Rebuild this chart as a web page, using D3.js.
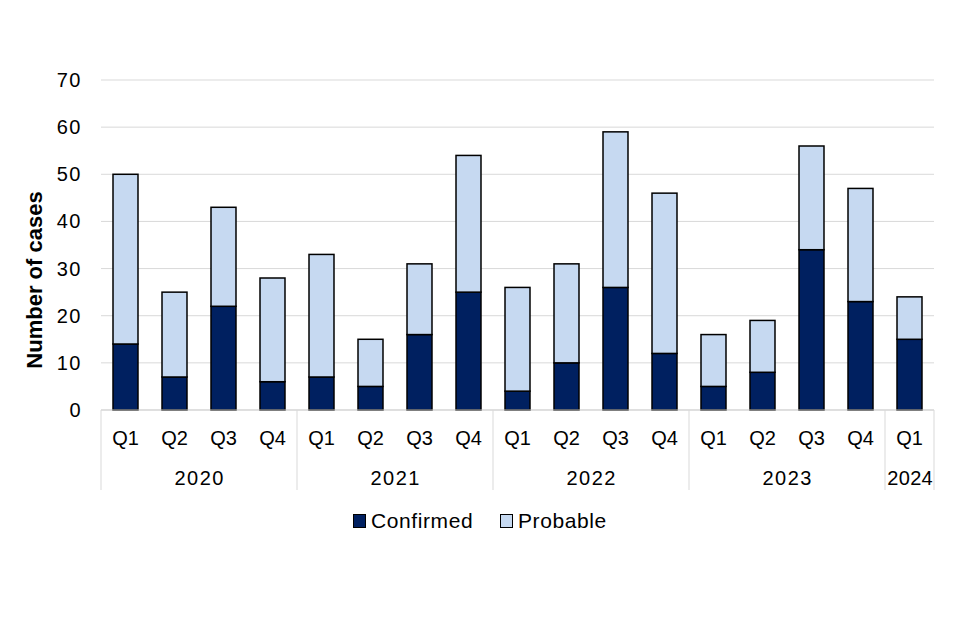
<!DOCTYPE html>
<html>
<head>
<meta charset="utf-8">
<script src="https://cdn.jsdelivr.net/npm/d3@7"></script>
<style>
  body { margin: 0; background: #fff; }
  text { font-family: "Liberation Sans", Arial, sans-serif; fill: #000; }
</style>
</head>
<body>
<svg id="chart" width="960" height="640"></svg>
<script>
var quarters = ["Q1", "Q2", "Q3", "Q4", "Q1", "Q2", "Q3", "Q4", "Q1", "Q2", "Q3", "Q4", "Q1", "Q2", "Q3", "Q4", "Q1"];
var years = ["2020", "2020", "2020", "2020", "2021", "2021", "2021", "2021", "2022", "2022", "2022", "2022", "2023", "2023", "2023", "2023", "2024"];
var confirmed = [14, 7, 22, 6, 7, 5, 16, 25, 4, 10, 26, 12, 5, 8, 34, 23, 15];
var probable = [36, 18, 21, 22, 26, 10, 15, 29, 22, 21, 33, 34, 11, 11, 22, 24, 9];
var yTicks = [0, 10, 20, 30, 40, 50, 60, 70];

var svg = d3.select("#chart");
var plotL = 101, plotR = 934, plotT = 80, plotB = 410;
var fs = "20px";

var idx = d3.range(quarters.length);
var x = d3.scaleBand().domain(idx).range([plotL, plotR]).paddingInner(0.49).paddingOuter(0.245);
var slot = (plotR - plotL) / quarters.length;
var y = d3.scaleLinear().domain([0, 70]).range([plotB, plotT]);

// gridlines
svg.append("g").selectAll("line")
  .data(yTicks.slice(1))
  .enter().append("line")
  .attr("x1", plotL).attr("x2", plotR)
  .attr("y1", function(d) { return y(d); })
  .attr("y2", function(d) { return y(d); })
  .attr("stroke", "#d9d9d9").attr("stroke-width", 1);

// y tick labels
svg.append("g").selectAll("text")
  .data(yTicks)
  .enter().append("text")
  .attr("x", 82)
  .attr("y", function(d) { return y(d); })
  .attr("dy", "0.35em")
  .attr("text-anchor", "end")
  .style("font-size", fs)
  .style("letter-spacing", "1.5px")
  .text(function(d) { return d; });

svg.append("text")
  .attr("transform", "translate(42,280) rotate(-90)")
  .attr("text-anchor", "middle")
  .style("font-size", "22px")
  .style("font-weight", "bold")
  .text("Number of cases");

// stacked bars
var rows = idx.map(function(i) {
  return { i: i, confirmed: confirmed[i], probable: probable[i] };
});
var series = d3.stack().keys(["confirmed", "probable"])(rows);
var colors = { confirmed: "#002060", probable: "#c6d9f1" };

svg.append("g").selectAll("g")
  .data(series)
  .enter().append("g")
  .attr("fill", function(s) { return colors[s.key]; })
  .selectAll("rect")
  .data(function(s) { return s; })
  .enter().append("rect")
  .attr("x", function(d) { return x(d.data.i); })
  .attr("width", x.bandwidth())
  .attr("y", function(d) { return y(d[1]); })
  .attr("height", function(d) { return y(d[0]) - y(d[1]); })
  .attr("stroke", "#000")
  .attr("stroke-width", 1.5);

// category axis
svg.append("line")
  .attr("x1", plotL).attr("x2", plotR)
  .attr("y1", plotB).attr("y2", plotB)
  .attr("stroke", "#bfbfbf").attr("stroke-width", 1);

svg.append("g").selectAll("text")
  .data(idx)
  .enter().append("text")
  .attr("x", function(i) { return x(i) + x.bandwidth() / 2; })
  .attr("y", 438)
  .attr("dy", "0.35em")
  .attr("text-anchor", "middle")
  .style("font-size", fs)
  .text(function(i) { return quarters[i]; });

// year groups
var groups = [];
years.forEach(function(yr, i) {
  var g = groups[groups.length - 1];
  if (!g || g.year !== yr) groups.push({ year: yr, start: i, end: i + 1 });
  else g.end = i + 1;
});

var bounds = [0].concat(groups.map(function(g) { return g.end; }));
svg.append("g").selectAll("line")
  .data(bounds)
  .enter().append("line")
  .attr("x1", function(b) { return plotL + b * slot; })
  .attr("x2", function(b) { return plotL + b * slot; })
  .attr("y1", plotB).attr("y2", 490)
  .attr("stroke", "#d9d9d9").attr("stroke-width", 1);

svg.append("g").selectAll("text")
  .data(groups)
  .enter().append("text")
  .attr("x", function(g) { return plotL + (g.start + g.end) / 2 * slot + 0.7; })
  .attr("y", 478)
  .attr("dy", "0.35em")
  .attr("text-anchor", "middle")
  .style("font-size", fs)
  .style("letter-spacing", function(g) { return g.end - g.start > 1 ? "1.5px" : "0.3px"; })
  .text(function(g) { return g.year; });

// legend
var legend = [
  { label: "Confirmed", key: "confirmed", x: 353 },
  { label: "Probable", key: "probable", x: 500 }
];
var lg = svg.append("g").selectAll("g")
  .data(legend)
  .enter().append("g")
  .attr("transform", function(d) { return "translate(" + d.x + ",521)"; });
lg.append("rect")
  .attr("x", 0.5).attr("y", -6.5)
  .attr("width", 12).attr("height", 13)
  .attr("fill", function(d) { return colors[d.key]; })
  .attr("stroke", "#000").attr("stroke-width", 1);
lg.append("text")
  .attr("x", 18)
  .attr("dy", "0.35em")
  .style("font-size", "21px")
  .style("letter-spacing", "0.6px")
  .text(function(d) { return d.label; });
</script>
</body>
</html>
